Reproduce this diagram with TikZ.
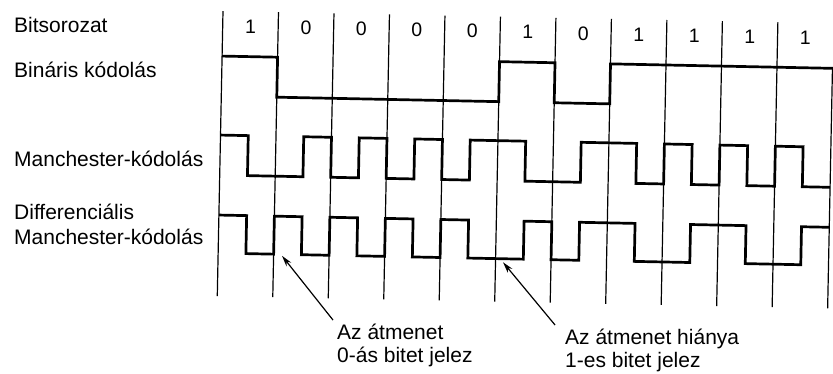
\documentclass[tikz,border=0pt]{standalone}
\usepackage{fontspec}
\setmainfont{Liberation Sans}
\usetikzlibrary{arrows.meta}
\begin{document}
\begin{tikzpicture}[x=1pt,y=-1pt,
  sig/.style={line width=2.7pt, line join=miter},
  gridline/.style={line width=1.2pt},
  lbl/.style={font=\fontsize{21}{25}\selectfont, inner sep=0pt, anchor=base west},
  bitlbl/.style={font=\fontsize{19.5}{22}\selectfont, inner sep=0pt},
  pointer/.style={line width=1.2pt, -{Stealth[length=11pt,width=6pt]}}]
\useasboundingbox (0,0) rectangle (833,374);
\begin{scope}[rotate around={-1.15:(416,187)}]
  % bit boundaries
  \foreach \i in {0,...,10} \draw[gridline] (219.5+55.5*\i,15) -- (219.5+55.5*\i,300);
  \draw[gridline] (830,60) -- (830,300);
  % bit values
  \foreach \b [count=\i from 0] in {1,0,0,0,0,1,0,1,1,1,1}
    \node[bitlbl] (bit\i) at (247.25+55.5*\i,30) {\b};
  % binary coding
  \draw[sig] (219.5,60) -- (275,60) -- (275,100) -- (497,100) -- (497,60) -- (552.5,60)
    -- (552.5,100) -- (608,100) -- (608,60) -- (832,60);
  % Manchester coding
  \draw[sig] (219.5,139) -- (247.25,139) -- (247.25,179) -- (302.75,179) -- (302.75,139)
    -- (330.5,139) -- (330.5,179) -- (358.25,179) -- (358.25,139) -- (386,139) -- (386,179)
    -- (413.75,179) -- (413.75,139) -- (441.5,139) -- (441.5,179) -- (469.25,179)
    -- (469.25,139) -- (524.75,139) -- (524.75,179) -- (580.25,179) -- (580.25,139)
    -- (635.75,139) -- (635.75,179) -- (663.5,179) -- (663.5,139) -- (691.25,139)
    -- (691.25,179) -- (719,179) -- (719,139) -- (746.75,139) -- (746.75,179)
    -- (774.5,179) -- (774.5,139) -- (802.25,139) -- (802.25,179) -- (830,179);
  % differential Manchester coding
  \draw[sig] (219.5,219) -- (247.25,219) -- (247.25,257) -- (275,257) -- (275,219)
    -- (302.75,219) -- (302.75,257) -- (330.5,257) -- (330.5,219) -- (358.25,219)
    -- (358.25,257) -- (386,257) -- (386,219) -- (413.75,219) -- (413.75,257)
    -- (441.5,257) -- (441.5,219) -- (469.25,219) -- (469.25,257) -- (524.75,257)
    -- (524.75,219) -- (552.5,219) -- (552.5,257) -- (580.25,257) -- (580.25,219)
    -- (635.75,219) -- (635.75,257) -- (691.25,257) -- (691.25,219) -- (746.75,219)
    -- (746.75,257) -- (802.25,257) -- (802.25,219) -- (830,219);
  \coordinate (tip1) at (283.4,258.5);
  \coordinate (tail1) at (335.7,321.7);
  \coordinate (tip2) at (504.5,260.5);
  \coordinate (tail2) at (557.8,322.2);
\end{scope}
% row labels
\node[lbl] (rowbits) at (14,33) {Bitsorozat};
\node[lbl] (rowbin) at (14,78) {Bináris kódolás};
\node[lbl] (rowman) at (14,167) {Manchester-kódolás};
\node[lbl] (rowdiffa) at (14,220) {Differenciális};
\node[lbl] (rowdiffb) at (14,245) {Manchester-kódolás};
% annotations
\node[lbl] (ann1a) at (337,339) {Az átmenet};
\node[lbl] (ann1b) at (337,362) {0-ás bitet jelez};
\node[lbl] (ann2a) at (565,344) {Az átmenet hiánya};
\node[lbl] (ann2b) at (565,367) {1-es bitet jelez};
\draw[pointer] (tail1) -- (tip1);
\draw[pointer] (tail2) -- (tip2);
\end{tikzpicture}
\end{document}
